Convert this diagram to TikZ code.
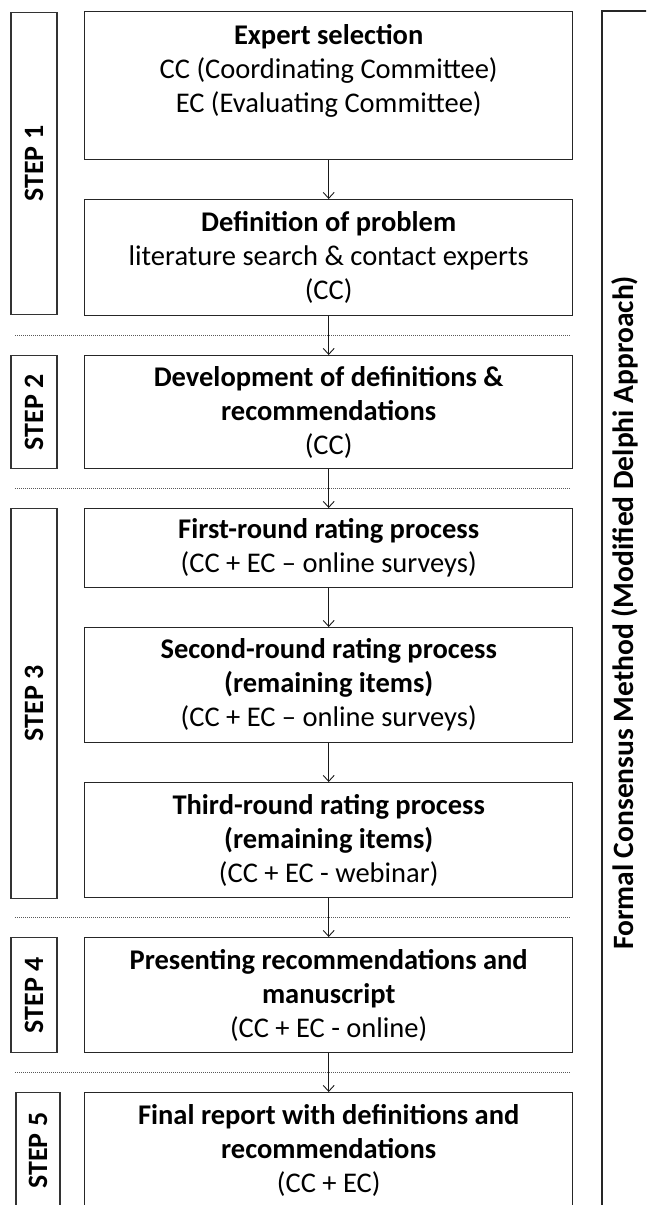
\documentclass[tikz,border=0pt]{standalone}
\usepackage{fontspec}
\setmainfont{Carlito}
\usetikzlibrary{positioning, calc, arrows.meta}

\begin{document}
\begin{tikzpicture}[x=1pt, y=1pt, >={Straight Barb[length=6pt, width=11pt]}]
    \tikzset{stage/.style={rectangle, draw=black!85, line width=1.4pt, fill=white, minimum width=488pt, align=center, inner sep=2pt, font=\fontsize{28.5}{34}\selectfont}}
    \tikzset{stepbox/.style={rectangle, draw=black!80, line width=1.4pt, rotate=90, minimum height=46pt, inner sep=0pt, font=\bfseries\fontsize{28}{30}\selectfont}}
    \tikzset{divider/.style={draw=black!65, line width=1.3pt, dash pattern=on 1pt off 1pt}}
    \tikzset{link/.style={->, draw=black!90, line width=0.9pt}}
    \useasboundingbox (0,0) rectangle (646,-1205);
    \clip (0,0) rectangle (646,-1205);
    \begin{scope}[node distance=38.6pt]
    \node[stage, minimum height=148pt, anchor=north west] at (84,-11) (g1) {\textbf{Expert selection}\\CC (Coordinating Committee)\\EC (Evaluating Committee)\\\mbox{}};
    \node[stage, minimum height=116pt, below=of g1] (g2) {\textbf{Definition of problem}\\literature search \& contact experts\\(CC)};
    \node[stage, minimum height=113pt, below=of g2] (g3) {\textbf{Development of definitions \&}\\\textbf{recommendations}\\(CC)};
    \node[stage, minimum height=79pt, below=of g3] (g4) {\textbf{First-round rating process}\\(CC + EC – online surveys)};
    \node[stage, minimum height=115pt, below=of g4] (g5) {\textbf{Second-round rating process}\\\textbf{(remaining items)}\\(CC + EC – online surveys)};
    \node[stage, minimum height=115pt, below=of g5] (g6) {\textbf{Third-round rating process}\\\textbf{(remaining items)}\\(CC + EC - webinar)};
    \node[stage, minimum height=115pt, below=of g6] (g7) {\textbf{Presenting recommendations and}\\\textbf{manuscript}\\(CC + EC - online)};
    \node[stage, minimum height=116pt, below=of g7] (g8) {\textbf{Final report with definitions and}\\\textbf{recommendations}\\(CC + EC)};
    \end{scope}

    \node[stepbox, minimum width=302pt] at ($(g1.north west)!.5!(g2.south west)+(-50,0)$) (s1) {STEP 1};
    \node[stepbox, minimum width=113pt] at ($(g3.west)+(-50,0)$) (s2) {STEP 2};
    \node[stepbox, minimum width=390pt] at ($(g4.north west)!.5!(g6.south west)+(-50,0)$) (s3) {STEP 3};
    \node[stepbox, minimum width=115pt] at ($(g7.west)+(-50,0)$) (s4) {STEP 4};
    \node[stepbox, minimum width=116pt, minimum height=44pt] at ($(g8.west)+(-46,0)$) (s5) {STEP 5};

    \coordinate (lft) at (15,0);
    \coordinate (rgt) at (571,0);
    \coordinate (d1) at ($(g2.south)!.5!(g3.north)$);
    \coordinate (d2) at ($(g3.south)!.5!(g4.north)$);
    \coordinate (d3) at ($(g6.south)!.5!(g7.north)$);
    \coordinate (d4) at ($(g7.south)!.5!(g8.north)$);
    \draw[divider] (d1 -| lft) -- (d1 -| rgt);
    \draw[divider] (d2 -| lft) -- (d2 -| rgt);
    \draw[divider] (d3 -| lft) -- (d3 -| rgt);
    \draw[divider] (d4 -| lft) -- (d4 -| rgt);

    \draw[link] (g1) -- (g2);
    \draw[link] (g2) -- (g3);
    \draw[link] (g3) -- (g4);
    \draw[link] (g4) -- (g5);
    \draw[link] (g5) -- (g6);
    \draw[link] (g6) -- (g7);
    \draw[link] (g7) -- (g8);

    \draw[draw=black!85, line width=1.4pt] (602,-11) rectangle (700,-1260);
    \node[rotate=90, anchor=base, font=\bfseries\fontsize{29.5}{30}\selectfont] at (633,-613) (method) {Formal Consensus Method (Modified Delphi Approach)};
\end{tikzpicture}
\end{document}
